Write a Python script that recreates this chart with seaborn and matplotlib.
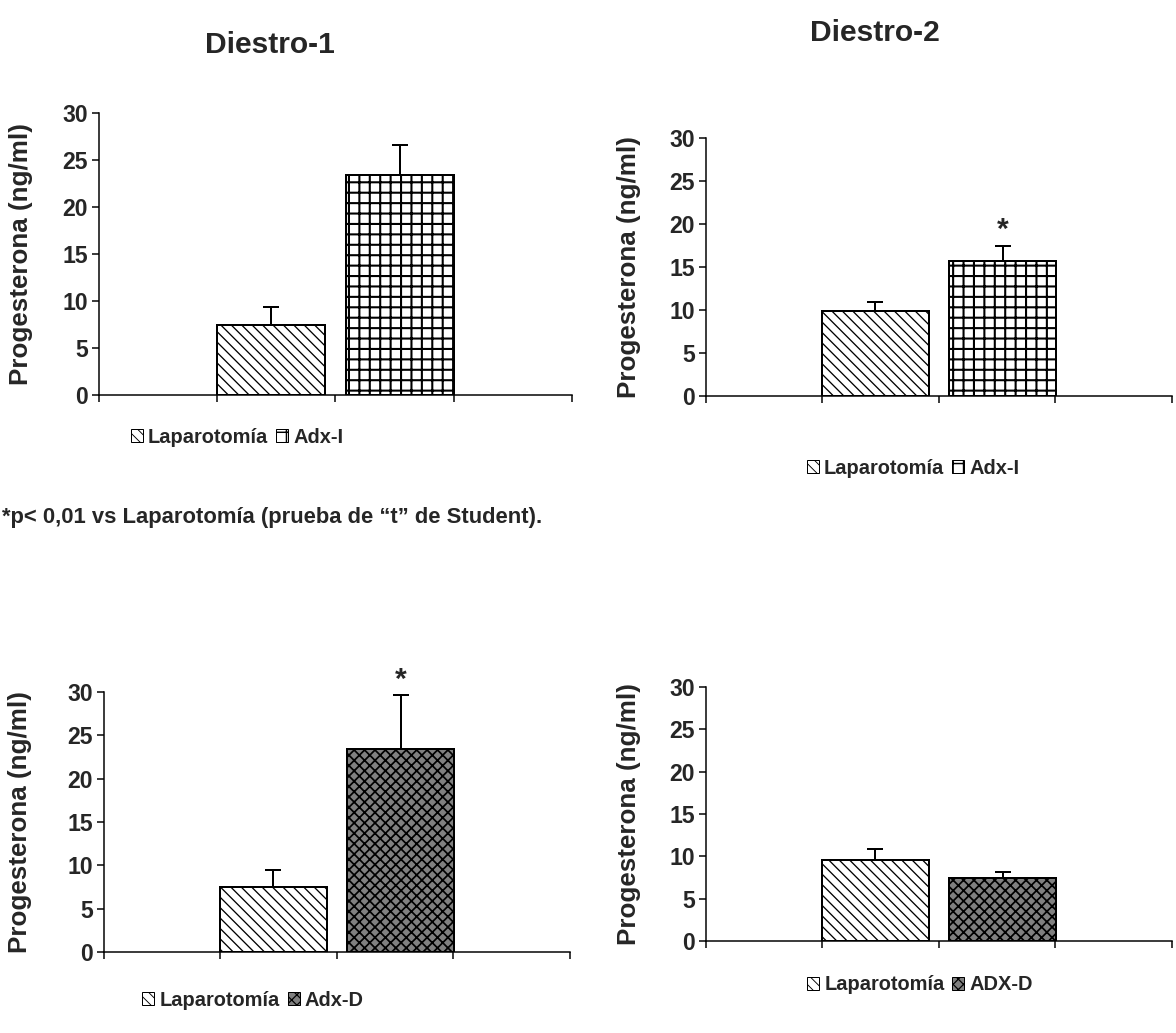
import matplotlib
matplotlib.use("Agg")
import matplotlib.pyplot as plt
import seaborn as sns
import pandas as pd
from matplotlib.patches import Patch

# ---- data -------------------------------------------------------------
panel_titles = ["Diestro-1", "Diestro-2", "", ""]
groups_izq = ["Laparotomía", "Adx-I"]
groups_der_1 = ["Laparotomía", "Adx-D"]
groups_der_2 = ["Laparotomía", "ADX-D"]

d1_izq_mean = [7.5, 23.45]
d1_izq_sem = [1.9, 3.15]
d2_izq_mean = [9.85, 15.7]
d2_izq_sem = [1.05, 1.75]
d1_der_mean = [7.5, 23.4]
d1_der_sem = [2.0, 6.2]
d2_der_mean = [9.6, 7.45]
d2_der_sem = [1.3, 0.65]

signif_izq_1 = [False, False]
signif_izq_2 = [False, True]
signif_der_1 = [False, True]
signif_der_2 = [False, False]

y_ticks = [0, 5, 10, 15, 20, 25, 30]
y_label = "Progesterona (ng/ml)"
footnote = "*p< 0,01 vs Laparotomía (prueba de \u201ct\u201d de Student)."

# ---- style ------------------------------------------------------------
DPI = 125
W, H = 1176, 1033
sns.set_theme(style="white")
plt.rcParams["font.family"] = ["Liberation Sans", "DejaVu Sans"]
plt.rcParams["font.weight"] = "bold"
plt.rcParams["hatch.linewidth"] = 1.1
plt.rcParams["hatch.color"] = "black"


def px(v):
    """pixel size -> points at the figure dpi"""
    return v * 72.0 / DPI


HATCH = {"Laparotomía": "\\" * 4, "Adx-I": "++", "Adx-D": "xxxx", "ADX-D": "xxxx"}
FACE = {"Laparotomía": "white", "Adx-I": "white", "Adx-D": "#808080", "ADX-D": "#808080"}
HATCH_LW = {"Laparotomía": 0.75, "Adx-I": 1.2, "Adx-D": 1.0, "ADX-D": 1.0}

BAR_W = 0.835
STEP = 0.917  # spacing of the category ticks


def style_hatch(p, g, scale=1.0):
    p.set_hatch(HATCH[g])
    if hasattr(p, "set_hatch_linewidth"):
        p.set_hatch_linewidth(HATCH_LW[g] * scale)


def draw_panel(rect, groups, means, sems, signif, leg_xy, ylab_x):
    ax = fig.add_axes(rect)
    df = pd.DataFrame({"grupo": groups, "valor": means})
    sns.barplot(data=df, x="grupo", y="valor", hue="grupo", order=groups,
                hue_order=groups, palette=[FACE[g] for g in groups],
                edgecolor="black", linewidth=px(2.0), width=BAR_W,
                errorbar=None, legend=False, saturation=1, ax=ax)
    bars = list(ax.patches)
    for p, g in zip(bars, groups):
        style_hatch(p, g)
        p.set_zorder(2)
    xs = [p.get_x() + p.get_width() / 2 for p in bars]
    tops = [p.get_height() for p in bars]
    ax.errorbar(xs, tops, yerr=[[0] * len(sems), sems], fmt="none",
                ecolor="black", elinewidth=px(2.0), capsize=px(8),
                capthick=px(2.0), zorder=1)
    for x, t, s, sig in zip(xs, tops, sems, signif):
        if sig:
            ax.annotate("*", (x, t + s), xytext=(0, px(2)),
                        textcoords="offset points", ha="center", va="bottom",
                        fontsize=px(30), fontweight="bold",
                        annotation_clip=False)
    left = xs[0] - BAR_W / 2 - STEP
    right = xs[1] + BAR_W / 2 + STEP
    ax.set_xlim(left, right)
    ax.set_ylim(0, 30)
    ax.set_xticks([left + i * STEP for i in range(5)])
    ax.set_xticklabels([])
    ax.set_yticks(y_ticks)
    ax.set_yticklabels([str(t) for t in y_ticks], fontsize=px(23),
                       fontweight="bold")
    ax.tick_params(axis="both", direction="out", length=px(7),
                   width=px(1.5), color="black", left=True, bottom=True,
                   pad=px(4))
    for s in ["top", "right"]:
        ax.spines[s].set_visible(False)
    for s in ["left", "bottom"]:
        ax.spines[s].set_color("black")
        ax.spines[s].set_linewidth(px(1.5))
    ax.set_xlabel("")
    ax.set_ylabel(y_label, fontsize=px(26), fontweight="bold")
    ax.yaxis.set_label_coords(ylab_x, 0.5)
    ax.set_facecolor("white")

    handles = [Patch(facecolor=FACE[g], edgecolor="black", hatch=HATCH[g],
                     linewidth=px(1.0), label=g) for g in groups]
    leg = fig.legend(handles=handles, loc="center", ncol=2,
                     bbox_to_anchor=(leg_xy[0] / W, 1 - leg_xy[1] / H),
                     frameon=False, prop={"size": px(20), "weight": "bold"},
                     handlelength=0.6, handleheight=0.6, handletextpad=0.25,
                     columnspacing=0.4, borderpad=0)
    for h, g in zip(leg.legend_handles, groups):
        if hasattr(h, "set_hatch_linewidth"):
            h.set_hatch_linewidth(HATCH_LW[g] * 0.7)
    return ax


fig = plt.figure(figsize=(W / DPI, H / DPI), dpi=DPI)
fig.patch.set_facecolor("white")


def rect(x0, x1, ytop, ybot):
    return [x0 / W, 1 - ybot / H, (x1 - x0) / W, (ybot - ytop) / H]


draw_panel(rect(99, 572, 113, 395), groups_izq, d1_izq_mean, d1_izq_sem,
           signif_izq_1, (237, 437), -0.14)
draw_panel(rect(706, 1172, 138, 396), groups_izq, d2_izq_mean, d2_izq_sem,
           signif_izq_2, (913, 468), -0.14)
draw_panel(rect(104, 570, 692, 952), groups_der_1, d1_der_mean, d1_der_sem,
           signif_der_1, (253, 1000), -0.155)
draw_panel(rect(706, 1172, 687, 941), groups_der_2, d2_der_mean, d2_der_sem,
           signif_der_2, (920, 985), -0.14)

fig.text(270 / W, 1 - 45 / H, panel_titles[0], ha="center", va="center",
         fontsize=px(30), fontweight="bold")
fig.text(875 / W, 1 - 33 / H, panel_titles[1], ha="center", va="center",
         fontsize=px(30), fontweight="bold")
fig.text(2 / W, 1 - 517 / H, footnote, ha="left", va="center",
         fontsize=px(22), fontweight="bold")

fig.savefig("out.png", dpi=DPI, facecolor="white")
